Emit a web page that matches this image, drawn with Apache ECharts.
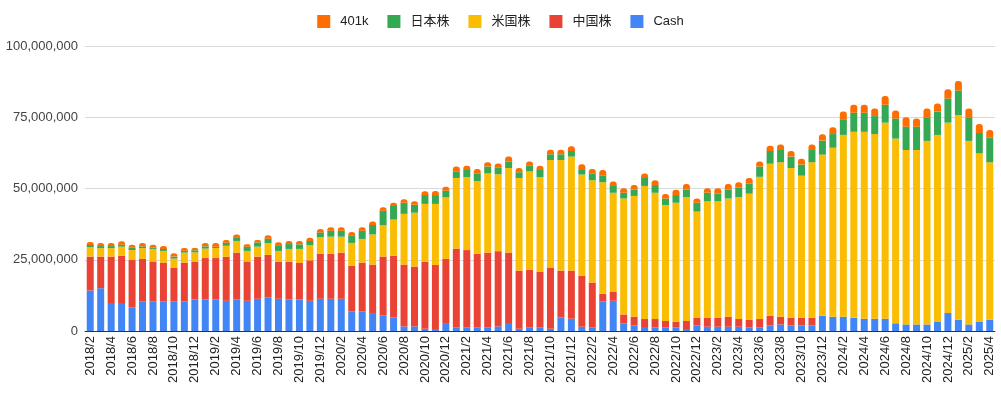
<!DOCTYPE html>
<html>
<head>
<meta charset="utf-8">
<script src="https://cdn.jsdelivr.net/npm/echarts@6/dist/echarts.min.js"></script>
<style>
html,body{margin:0;padding:0;background:#fff;}
#chart{width:1001px;height:393px;}
</style>
</head>
<body>
<div id="chart"></div>
<script>
// Categories (months)
const categories = [
  '2018/2','2018/3','2018/4','2018/5','2018/6','2018/7','2018/8','2018/9','2018/10','2018/11','2018/12',
  '2019/1','2019/2','2019/3','2019/4','2019/5','2019/6','2019/7','2019/8','2019/9','2019/10','2019/11','2019/12',
  '2020/1','2020/2','2020/3','2020/4','2020/5','2020/6','2020/7','2020/8','2020/9','2020/10','2020/11','2020/12',
  '2021/1','2021/2','2021/3','2021/4','2021/5','2021/6','2021/7','2021/8','2021/9','2021/10','2021/11','2021/12',
  '2022/1','2022/2','2022/3','2022/4','2022/5','2022/6','2022/7','2022/8','2022/9','2022/10','2022/11','2022/12',
  '2023/1','2023/2','2023/3','2023/4','2023/5','2023/6','2023/7','2023/8','2023/9','2023/10','2023/11','2023/12',
  '2024/1','2024/2','2024/3','2024/4','2024/5','2024/6','2024/7','2024/8','2024/9','2024/10','2024/11','2024/12',
  '2025/1','2025/2','2025/3','2025/4'
];

// Series values in millions of yen
const cash = [
  14.2,15.0,9.5,9.5,8.3,10.3,10.3,10.3,10.3,10.3,11.1,
  11.1,11.1,10.6,11.1,10.6,11.3,11.8,11.3,11.1,11.1,10.6,11.3,
  11.3,11.3,6.8,6.8,6.3,5.5,4.7,1.6,1.6,0.8,0.4,2.5,
  1.3,1.3,1.3,1.3,1.6,2.8,0.8,1.3,1.3,0.8,4.8,4.3,
  1.5,1.3,10.3,10.6,2.7,1.9,1.4,1.2,1.2,1.2,0.7,1.9,
  1.5,1.5,1.5,1.5,1.2,1.3,1.9,2.3,1.9,1.9,1.9,5.4,
  5.0,5.0,4.7,4.3,4.3,4.3,2.7,2.3,2.3,2.3,3.2,6.3,
  4.0,2.3,3.2,4.0
];
const chinaStocks = [
  11.9,11.1,16.6,16.9,16.6,15.0,14.1,13.7,11.8,13.7,13.3,
  14.5,14.5,15.4,16.4,13.8,14.8,14.9,13.0,13.2,12.8,14.2,15.8,
  15.8,16.2,16.1,17.2,17.0,20.6,21.7,21.7,21.0,23.5,22.8,22.8,
  27.6,27.1,25.8,26.2,26.4,24.7,20.4,20.2,19.4,21.3,16.4,16.9,
  17.9,15.7,2.8,3.1,3.1,3.1,2.8,3.0,2.3,2.0,2.8,2.8,
  3.2,3.2,3.5,2.7,2.7,2.9,3.5,2.7,2.8,2.8,2.8,0,
  0,0,0,0,0,0,0,0,0,0,0,0,
  0,0,0,0
];
const usStocks = [
  3.3,3.0,3.0,3.2,3.5,3.8,4.4,4.1,3.3,3.5,3.2,
  3.3,3.5,3.9,4.1,3.7,3.5,4.1,3.8,4.5,4.9,5.3,5.8,
  6.0,5.6,8.0,8.3,10.6,11.0,12.7,17.8,18.9,20.3,21.4,21.6,
  24.8,25.6,25.5,27.8,27.0,29.7,32.5,34.5,33.3,37.9,38.8,40.0,
  35.5,35.9,39.1,34.8,40.7,42.4,46.7,44.3,40.7,41.8,43.5,37.2,
  40.8,40.8,41.5,42.8,44.3,49.9,53.3,54.2,52.5,49.8,54.5,56.5,
  59.3,63.8,65.2,65.6,64.8,68.8,64.8,61.2,61.2,64.4,65.6,66.8,
  71.8,64.4,59.1,55.2
];
const japanStocks = [
  0.8,0.7,0.7,0.7,0.8,0.6,0.4,0.7,0.7,0.7,0.7,
  0.8,0.5,1.1,1.3,1.5,1.5,1.6,2.0,1.7,1.6,1.5,1.7,
  2.1,2.1,2.7,2.9,3.3,5.1,4.8,3.9,2.8,3.1,3.1,2.3,
  2.2,2.5,2.7,2.4,2.3,2.2,2.0,2.0,2.5,2.0,2.0,2.0,
  1.9,2.4,2.4,2.4,2.0,2.3,2.8,2.7,2.3,2.7,2.7,3.1,
  3.0,2.8,3.2,3.4,3.6,3.6,4.5,4.3,4.0,3.9,4.3,4.9,
  4.8,5.5,6.7,6.7,6.3,6.3,7.1,8.2,8.2,8.3,8.2,8.5,
  8.6,8.3,7.2,8.6
];
const k401 = [
  1.0,1.1,1.1,1.2,1.1,1.2,1.1,1.0,1.2,0.9,0.8,
  1.2,1.3,0.9,1.0,0.8,0.8,1.2,1.0,1.1,1.2,1.1,1.2,
  1.2,1.2,1.1,1.2,1.2,1.2,1.1,1.2,1.2,1.3,1.4,1.4,
  1.8,1.5,1.5,1.5,1.5,1.8,1.5,1.5,1.5,1.6,1.6,1.6,
  1.7,1.5,1.9,1.6,1.6,1.5,1.6,1.7,1.6,1.9,1.9,1.5,
  1.6,1.8,1.9,1.8,1.9,1.8,1.8,1.9,2.0,2.0,1.9,2.2,
  2.4,2.7,2.8,2.8,2.7,3.1,2.8,3.3,2.9,3.1,2.8,3.2,
  3.3,3.1,3.1,2.7
];

// Y-axis tick values
const yTicks = [0, 25000000, 50000000, 75000000, 100000000];

const M = 1e6;
const toYen = arr => arr.map(v => Math.round(v * M));

const FONT = '"Liberation Sans", Arial, "Noto Sans CJK JP", sans-serif';

const chart = echarts.init(document.getElementById('chart'), null, {renderer: 'canvas'});

const barBase = {
  type: 'bar',
  stack: 'total',
  barWidth: 7,
  emphasis: {disabled: true}
};

chart.setOption({
  animation: false,
  textStyle: {fontFamily: FONT},
  legend: {
    top: 10,
    left: 'center',
    itemWidth: 13,
    itemHeight: 13,
    itemGap: 19,
    icon: 'rect',
    data: ['401k', '日本株', '米国株', '中国株', 'Cash'],
    textStyle: {fontSize: 13, color: '#222', fontFamily: FONT, padding: [0, 0, 0, 5]}
  },
  grid: {left: 85, right: 6, top: 46, bottom: 62, containLabel: false},
  xAxis: {
    type: 'category',
    data: categories,
    axisTick: {show: false},
    axisLine: {lineStyle: {color: '#333', width: 1}},
    axisLabel: {
      rotate: 90,
      interval: 1,
      fontSize: 13,
      color: '#222',
      margin: 5,
      fontFamily: FONT
    }
  },
  yAxis: {
    type: 'value',
    min: yTicks[0],
    max: yTicks[yTicks.length - 1],
    interval: yTicks[1] - yTicks[0],
    axisLine: {show: false},
    axisTick: {show: false},
    splitLine: {lineStyle: {color: '#d9d9d9', width: 1}},
    axisLabel: {
      fontSize: 13,
      color: '#444',
      margin: 7,
      fontFamily: FONT,
      formatter: v => v.toLocaleString('en-US')
    }
  },
  series: [
    Object.assign({}, barBase, {name: 'Cash', data: toYen(cash), itemStyle: {color: '#4285F4'}}),
    Object.assign({}, barBase, {name: '中国株', data: toYen(chinaStocks), itemStyle: {color: '#EA4335'}}),
    Object.assign({}, barBase, {name: '米国株', data: toYen(usStocks), itemStyle: {color: '#FBBC04'}}),
    Object.assign({}, barBase, {name: '日本株', data: toYen(japanStocks), itemStyle: {color: '#34A853'}}),
    Object.assign({}, barBase, {name: '401k', data: toYen(k401), itemStyle: {color: '#FF6D01', borderRadius: [3, 3, 0, 0]}})
  ]
});
</script>
</body>
</html>
